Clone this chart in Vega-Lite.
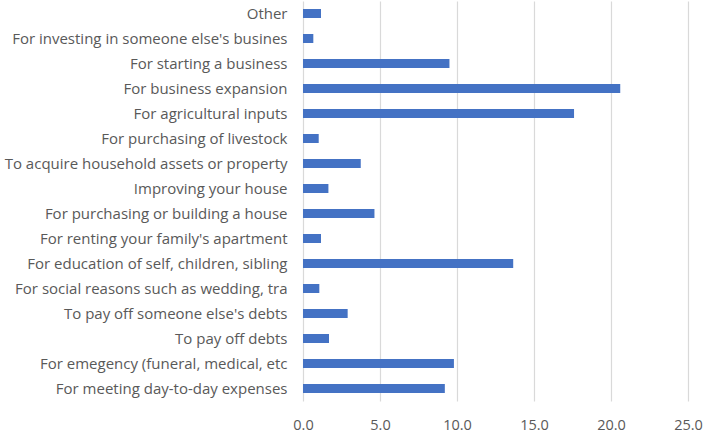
{
  "$schema": "https://vega.github.io/schema/vega-lite/v6.json",
  "width": 385,
  "height": 400,
  "autosize": {"type": "none"},
  "padding": {"left": 303, "top": 1, "right": 15, "bottom": 34},
  "background": "white",
  "config": {"view": {"stroke": null}},
  "data": {"values": [
    {"reason": "Other", "value": 1.17},
    {"reason": "For investing in someone else's busines", "value": 0.67},
    {"reason": "For starting a business", "value": 9.51},
    {"reason": "For business expansion", "value": 20.6},
    {"reason": "For agricultural inputs", "value": 17.6},
    {"reason": "For purchasing of livestock", "value": 1.02},
    {"reason": "To acquire household assets or property", "value": 3.75},
    {"reason": "Improving your house", "value": 1.65},
    {"reason": "For purchasing or building a house", "value": 4.64},
    {"reason": "For renting your family's apartment", "value": 1.17},
    {"reason": "For education of self, children, sibling", "value": 13.65},
    {"reason": "For social reasons such as wedding, tra", "value": 1.06},
    {"reason": "To pay off someone else's debts", "value": 2.9},
    {"reason": "To pay off debts", "value": 1.69},
    {"reason": "For emegency (funeral, medical, etc", "value": 9.8},
    {"reason": "For meeting day-to-day expenses", "value": 9.21}
  ]},
  "mark": {"type": "bar", "color": "#4472C4"},
  "encoding": {
    "y": {
      "field": "reason", "type": "nominal", "sort": null,
      "scale": {"paddingInner": 0.64, "paddingOuter": 0.32},
      "axis": {"title": null, "domain": false, "ticks": false, "labelPadding": 16,
               "labelFont": "Open Sans", "labelFontSize": 15, "labelColor": "#595959", "labelLimit": 400}
    },
    "x": {
      "field": "value", "type": "quantitative",
      "scale": {"domain": [0, 25], "nice": false},
      "axis": {"title": null, "domain": false, "ticks": false, "values": [0, 5, 10, 15, 20, 25],
               "format": ".1f", "labelPadding": 17, "labelFont": "Open Sans", "labelFontSize": 14.5,
               "labelColor": "#595959", "gridColor": "#d9d9d9", "gridWidth": 1.2, "labelFlush": false}
    }
  }
}
